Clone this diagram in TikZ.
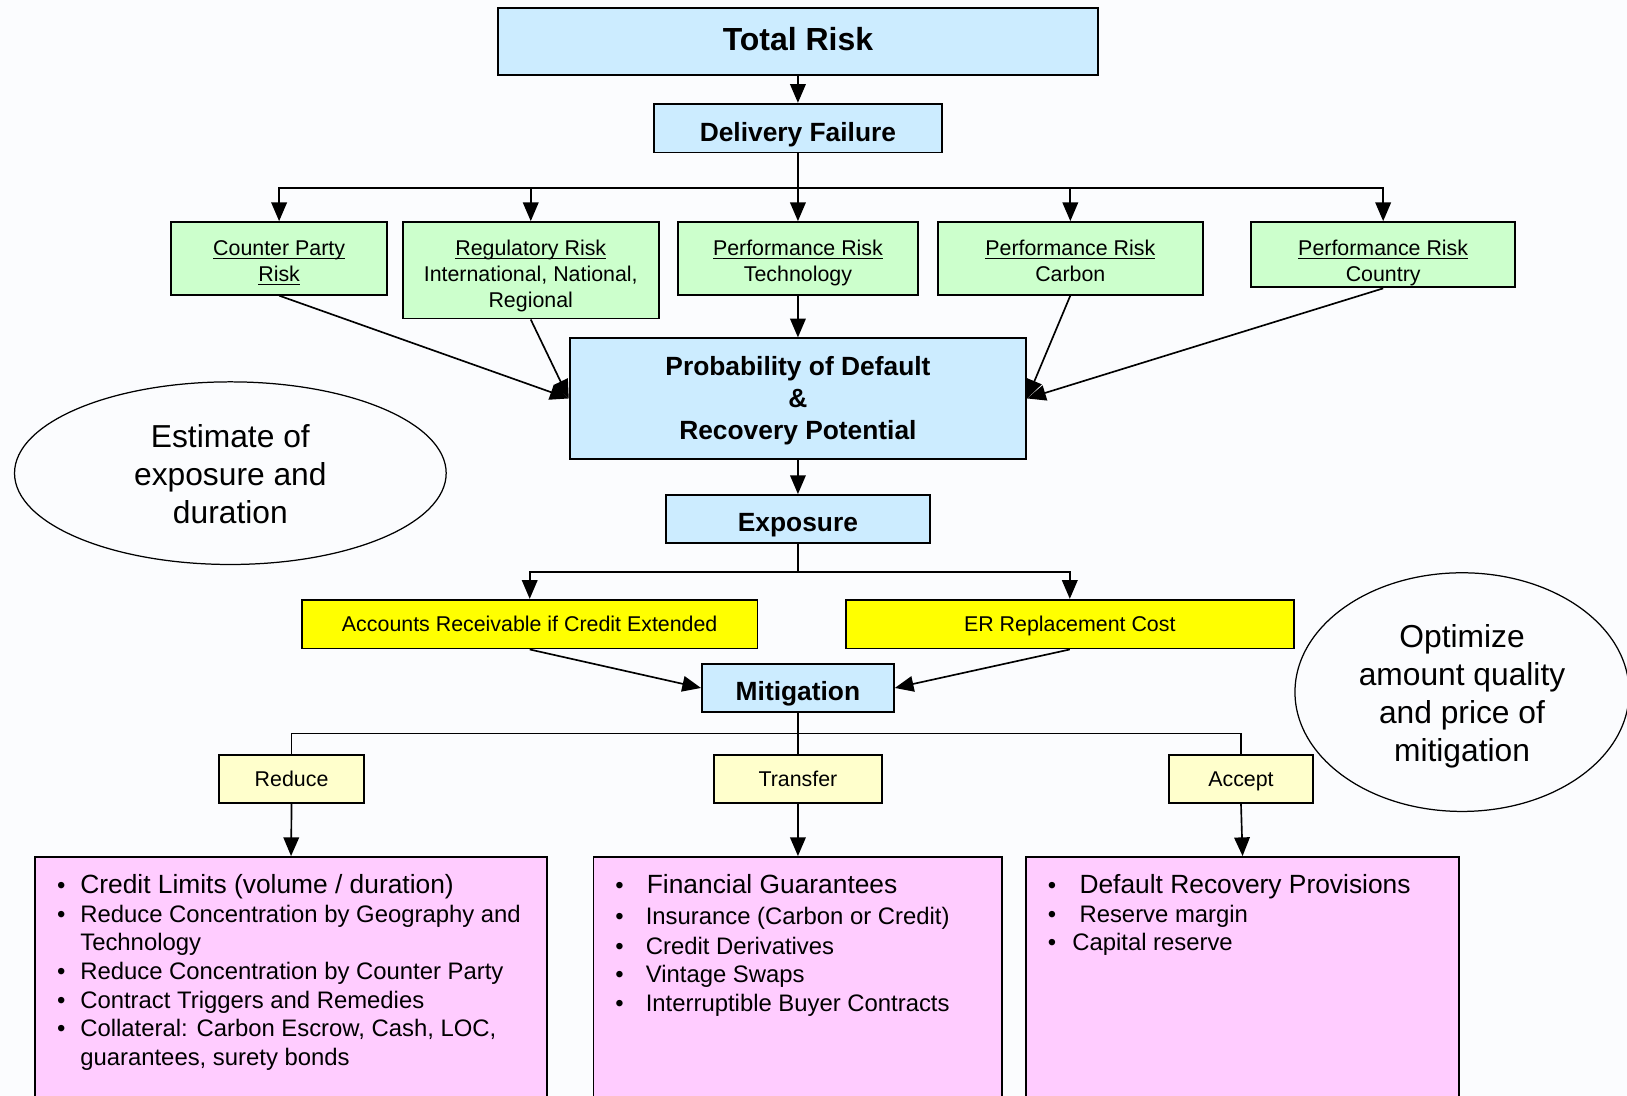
\documentclass[tikz,border=0pt]{standalone}
\usepackage{fontspec}
\setmainfont{Liberation Sans}
\usetikzlibrary{arrows.meta,shapes.geometric}
\definecolor{bgc}{HTML}{FBFCFE}
\definecolor{blu}{HTML}{CCECFF}
\definecolor{grn}{HTML}{CCFFCC}
\definecolor{yel}{HTML}{FFFF00}
\definecolor{lyel}{HTML}{FFFFCC}
\definecolor{pnk}{HTML}{FFCCFF}
\newcommand\myul[1]{\leavevmode\setbox0=\hbox{#1}\rlap{\rule[-1.6pt]{\wd0}{0.55pt}}\box0}
\newcommand\ml[1]{\begin{tabular}[t]{@{}c@{}}#1\end{tabular}}
\tikzset{
  sz/.style 2 args={minimum width=#1*0.5pt, minimum height=#2*0.5pt},
  down/.style={text height=#1, text depth=0pt},
  up/.style={text height=0pt, text depth=#1},
  box/.style={draw=black, line width=0.9pt, inner sep=0pt, rectangle},
  bluebox/.style={box, fill=blu, font=\fontsize{12.7}{15.5}\selectfont\bfseries},
  greenbox/.style={box, fill=grn, font=\fontsize{10.3}{12.3}\selectfont},
  yelbox/.style={box, fill=yel, font=\fontsize{10.3}{12.3}\selectfont},
  lyelbox/.style={box, fill=lyel, font=\fontsize{10.3}{12.3}\selectfont},
  pinkbox/.style={box, fill=pnk},
  oval/.style={ellipse, draw=black, line width=0.6pt, inner sep=0pt, font=\fontsize{15.3}{18.3}\selectfont},
  conn/.style={line width=0.8pt},
  arr/.style={conn, -{Triangle[length=9pt,width=7.5pt]}},
  itm/.style={anchor=base west, inner sep=0pt, font=\fontsize{11.5}{13.9}\selectfont},
  itmbig/.style={anchor=base west, inner sep=0pt, font=\fontsize{12.7}{15}\selectfont},
  bul/.style={anchor=base, inner sep=0pt, font=\fontsize{11.5}{13.9}\selectfont},
}
\begin{document}
\begin{tikzpicture}[x=0.5pt, y=-0.5pt]
\useasboundingbox (0,0) rectangle (1568,1056);
\fill[bgc] (0,0) rectangle (1568,1056);
\clip (0,0) rectangle (1568,1056);

% top
\node[bluebox, sz={578}{64}, font=\fontsize{15.4}{18}\selectfont\bfseries, down=8.2pt] (TR) at (769,40) {Total Risk};
\node[bluebox, sz={278}{47}, down=12.5pt] (DF) at (769,123.5) {Delivery Failure};

% risk boxes
\node[greenbox, sz={208}{70}, up=2.3pt] (CP) at (269,249) {\ml{\myul{Counter Party}\\\myul{Risk}}};
\node[greenbox, sz={247}{93}, up=13.8pt] (RG) at (511.5,260.5) {\ml{\myul{Regulatory Risk}\\International, National,\\Regional}};
\node[greenbox, sz={231}{70}, up=2.3pt] (PT) at (769,249) {\ml{\myul{Performance Risk}\\Technology}};
\node[greenbox, sz={255}{70}, up=2.3pt] (PC) at (1031.5,249) {\ml{\myul{Performance Risk}\\Carbon}};
\node[greenbox, sz={254}{63}, down=1.2pt] (PY) at (1333,245.5) {\ml{\myul{Performance Risk}\\Country}};

\node[bluebox, sz={440}{116}, up=22pt] (PD) at (769,384) {\ml{Probability of Default\\\&\\Recovery Potential}};
\node[bluebox, sz={254}{46}, down=11.8pt] (EX) at (769,500) {Exposure};

\node[yelbox, sz={439}{47}, down=7.5pt] (AR) at (510.5,601.5) {Accounts Receivable if Credit Extended};
\node[yelbox, sz={432}{47}, down=7.5pt] (ER) at (1031,601.5) {ER Replacement Cost};

\node[bluebox, sz={185}{46}, down=12.3pt] (MI) at (769,663) {Mitigation};

\node[lyelbox, sz={140}{46}, down=7.2pt] (RD) at (281,751) {Reduce};
\node[lyelbox, sz={162}{46}, down=7.2pt] (TF) at (769,751) {Transfer};
\node[lyelbox, sz={138}{46}, down=7.2pt] (AC) at (1196,751) {Accept};

% pink boxes
\node[pinkbox, anchor=north, sz={493}{250}] (PL) at (280.5,825) {};
\node[pinkbox, anchor=north, sz={394}{250}] (PM) at (769,825) {};
\node[pinkbox, anchor=north, sz={417}{250}] (PR) at (1197.5,825) {};

% ellipses
\node[oval, sz={416}{176}, up=24.9pt] (E1) at (222,456) {\ml{Estimate of\\exposure and\\duration}};
\node[oval, sz={322}{230}, up=42.6pt] (E2) at (1409,667) {\ml{Optimize\\amount quality\\and price of\\mitigation}};

% connectors
\coordinate (b1) at (769,181);
\coordinate (b2) at (769,551);
\coordinate (b3) at (769,707);
\draw[arr] (TR) -- (DF);
\draw[conn] (DF.south) -- (b1);
\draw[arr] (b1) -| (CP.north);
\draw[arr] (b1) -| (RG.north);
\draw[arr] (b1) -- (PT.north);
\draw[arr] (b1) -| (PC.north);
\draw[arr] (b1) -| (PY.north);
\draw[arr] (PT) -- (PD);
\draw[arr] (CP.south) -- (PD.west);
\draw[arr] (RG.south) -- (PD.west);
\draw[arr] (PC.south) -- (PD.east);
\draw[arr] (PY.south) -- (PD.east);
\draw[arr] (PD) -- (EX);
\draw[conn] (EX.south) -- (b2);
\draw[arr] (b2) -| (AR.north);
\draw[arr] (b2) -| (ER.north);
\draw[arr] (AR.south) -- (MI.west);
\draw[arr] (ER.south) -- (MI.east);
\draw[conn] (MI.south) -- (b3);
\draw[conn] (b3) -| (RD.north);
\draw[conn] (b3) -- (TF.north);
\draw[conn] (b3) -| (AC.north);
\draw[arr] (RD.south) -- (PL.north);
\draw[arr] (TF.south) -- (PM.north);
\draw[arr] (AC.south) -- (PR.north);

% left list
\node[bul] (lb1) at (59,861) {\textbullet};
\node[itmbig] (lt1) at (77,861) {Credit Limits (volume / duration)};
\node[bul] (lb2) at (59,889) {\textbullet};
\node[itm] (lt2) at (77,889) {Reduce Concentration by Geography and};
\node[itm] (lt2b) at (77,916) {Technology};
\node[bul] (lb3) at (59,944) {\textbullet};
\node[itm] (lt3) at (77,944) {Reduce Concentration by Counter Party};
\node[bul] (lb4) at (59,972) {\textbullet};
\node[itm] (lt4) at (77,972) {Contract Triggers and Remedies};
\node[bul] (lb5) at (59,999) {\textbullet};
\node[itm] (lt5) at (77,999) {Collateral: Carbon Escrow, Cash, LOC,};
\node[itm] (lt5b) at (77,1027) {guarantees, surety bonds};

% middle list
\node[bul] (mb1) at (597,861) {\textbullet};
\node[itmbig] (mt1) at (623,861) {Financial Guarantees};
\node[bul] (mb2) at (597,891) {\textbullet};
\node[itm] (mt2) at (622,891) {Insurance (Carbon or Credit)};
\node[bul] (mb3) at (597,920) {\textbullet};
\node[itm] (mt3) at (622,920) {Credit Derivatives};
\node[bul] (mb4) at (597,947) {\textbullet};
\node[itm] (mt4) at (622,947) {Vintage Swaps};
\node[bul] (mb5) at (597,975) {\textbullet};
\node[itm] (mt5) at (622,975) {Interruptible Buyer Contracts};

% right list
\node[bul] (rb1) at (1014,861) {\textbullet};
\node[itmbig] (rt1) at (1040,861) {Default Recovery Provisions};
\node[bul] (rb2) at (1014,889) {\textbullet};
\node[itm] (rt2) at (1040,889) {Reserve margin};
\node[bul] (rb3) at (1014,916) {\textbullet};
\node[itm] (rt3) at (1033,916) {Capital reserve};
\end{tikzpicture}
\end{document}
